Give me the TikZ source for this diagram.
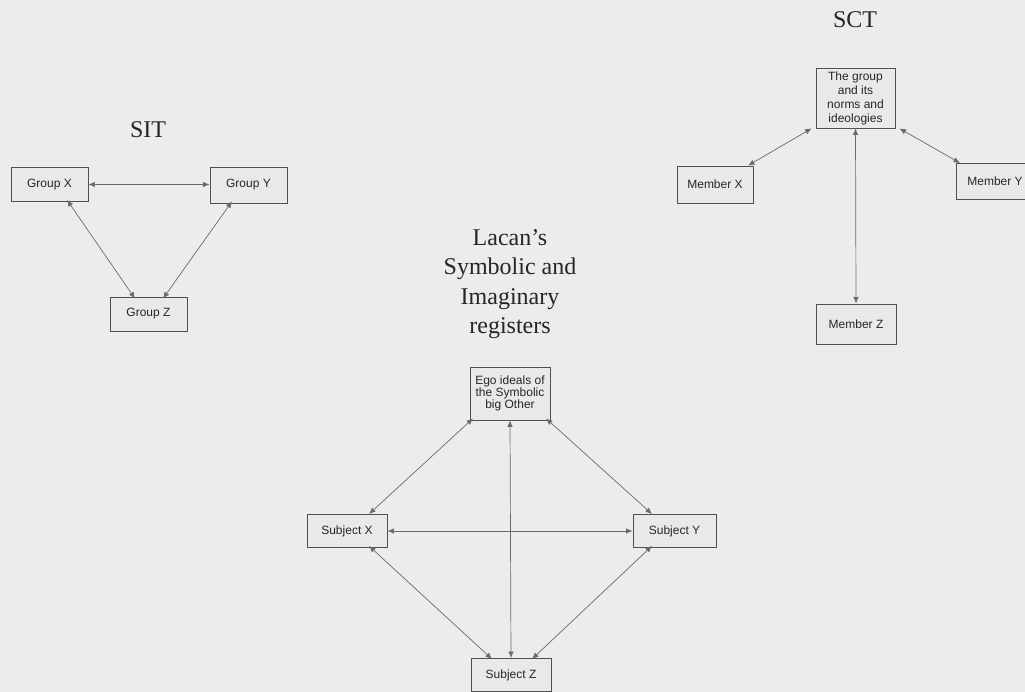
\documentclass[tikz,border=0pt]{standalone}
\usepackage{fontspec}
\setmainfont{Liberation Serif}
\setsansfont{Liberation Sans}
\usetikzlibrary{arrows.meta}
\definecolor{bgc}{HTML}{ECECEC}
\definecolor{boxc}{HTML}{E9E9E9}
\definecolor{edgec}{HTML}{505050}
\definecolor{linec}{HTML}{6A6A6A}
\definecolor{txtc}{HTML}{262626}
\tikzset{
  box/.style={draw=edgec, line width=0.9pt, fill=boxc, inner sep=1pt, align=center,
    font=\sffamily\fontsize{12}{13}\selectfont, text=txtc},
  ttl/.style={font=\fontsize{24}{29.5}\selectfont, text=txtc, align=center, inner sep=0pt},
  link/.style={draw=linec, line width=0.7pt, {Latex[length=6.5pt,width=5.5pt]}-{Latex[length=6.5pt,width=5.5pt]}}
}
\begin{document}
\begin{tikzpicture}[x=1pt,y=-1pt]
\clip (0,0) rectangle (1025,692);
\fill[bgc] (0,0) rectangle (1025,692);
% SIT
\node[ttl] (sit) at (148,130) {SIT};
\node[box, minimum width=77pt, minimum height=34pt] (gx) at (49.5,184.5) {Group X};
\node[box, minimum width=77pt, minimum height=36pt] (gy) at (248.5,185) {Group Y};
\node[box, minimum width=77pt, minimum height=34pt] (gz) at (148.5,314) {Group Z};
\draw[link] (gx.east) -- (gx.east -| gy.west);
\draw[link] ([xshift=17.5pt,yshift=2pt]gx.south) -- ([xshift=-13.5pt,yshift=-2pt]gz.north);
\draw[link] ([xshift=-16.5pt,yshift=2pt]gy.south) -- ([xshift=14.5pt,yshift=-2pt]gz.north);
% SCT
\node[ttl] (sct) at (855,20) {SCT};
\node[box, minimum width=79pt, minimum height=60pt, font=\sffamily\fontsize{12}{14}\selectfont] (grp) at (855.5,98) {The group\\and its\\norms and\\ideologies};
\node[box, minimum width=76pt, minimum height=37pt] (mx) at (715,184.5) {Member X};
\node[box, minimum width=78pt, minimum height=36pt] (my) at (995,181.5) {Member Y};
\node[box, minimum width=80pt, minimum height=40pt] (mz) at (856,324) {Member Z};
\draw[link] ([xshift=-4pt]grp.south west) -- ([xshift=33pt]mx.north);
\draw[link] ([xshift=4pt]grp.south east) -- ([xshift=-35pt]my.north);
\draw[link] (grp.south) -- (mz.north);
% Lacan
\node[ttl] (lac) at (510,284) {Lacan's\\Symbolic and\\Imaginary\\registers};
\node[box, minimum width=80pt, minimum height=53pt, font=\sffamily\fontsize{12}{12.3}\selectfont] (ego) at (510,393.5) {Ego ideals of\\the Symbolic\\big Other};
\node[box, minimum width=80pt, minimum height=33pt] (sx) at (347,531) {Subject X};
\node[box, minimum width=83pt, minimum height=33pt] (sy) at (674.5,531) {Subject Y};
\node[box, minimum width=80pt, minimum height=33pt] (sz) at (511,675) {Subject Z};
\draw[link] ([xshift=-37pt,yshift=2pt]ego.south) -- ([xshift=22pt]sx.north);
\draw[link] ([xshift=36pt,yshift=2pt]ego.south) -- ([xshift=-22.5pt]sy.north);
\draw[link] (ego.south) -- (sz.north);
\draw[link] (sx.east) -- (sy.west);
\draw[link] ([xshift=22pt,yshift=2pt]sx.south) -- ([xshift=-19pt,yshift=-1pt]sz.north);
\draw[link] ([xshift=-22.5pt,yshift=2pt]sy.south) -- ([xshift=21pt,yshift=-1pt]sz.north);
\end{tikzpicture}
\end{document}
